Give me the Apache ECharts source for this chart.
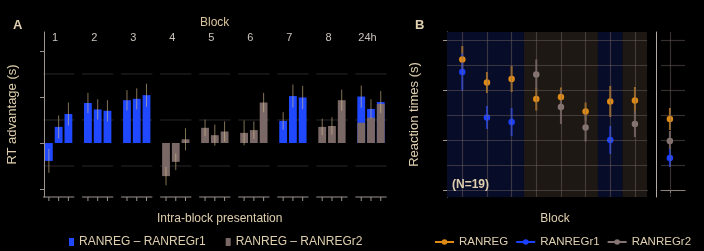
<!DOCTYPE html>
<html>
<head>
<meta charset="utf-8">
<script src="https://cdn.jsdelivr.net/npm/echarts@6/dist/echarts.min.js"></script>
<style>
  html, body { margin: 0; background: #000; }
  #chart { width: 704px; height: 251px; }
</style>
</head>
<body>
<div id="chart"></div>
<script>
// ---------------- data ----------------
const blocks = ['1', '2', '3', '4', '5', '6', '7', '8', '24h'];

// panel A : RT advantage, 3 intra-block presentations per block (null = no bar)
const advR1 = [-0.39, 0.35, 0.63,  0.87, 0.73, 0.70,  0.93, 0.96, 1.04,  null, null, null,
               null, null, null,  null, null, null,  0.48, 1.02, 0.99,  null, null, null,  1.01, 0.74, 0.89];
const errR1 = [0.26, 0.25, 0.25,  0.22, 0.22, 0.23,  0.22, 0.23, 0.25,  null, null, null,
               null, null, null,  null, null, null,  0.19, 0.25, 0.25,  null, null, null,  0.24, 0.21, 0.24];
const advR2 = [null, null, null,  null, null, null,  null, null, null,  -0.72, -0.41, 0.08,
               0.33, 0.17, 0.25,  0.22, 0.28, 0.88,  null, null, null,  0.35, 0.37, 0.93,  0.44, 0.55, 0.85];
const errR2 = [null, null, null,  null, null, null,  null, null, null,  0.20, 0.18, 0.24,
               0.18, 0.23, 0.22,  0.27, 0.19, 0.21,  null, null, null,  0.18, 0.19, 0.23,  null, null, null];

// panel B : reaction times per block (blocks 1..8), then 24h
const rtRan    = [2.61, 2.15, 2.22, 1.82, 1.86, 1.57, 1.77, 1.79];
const rtRanErr = [0.27, 0.21, 0.26, 0.23, 0.19, 0.18, 0.31, 0.27];
const rtR1     = [2.36, 1.45, 1.36, null, null, null, 1.00, null];
const rtR1Err  = [0.37, 0.23, 0.28, null, null, null, 0.28, null];
const rtR2     = [null, null, null, 2.31, 1.66, 1.25, null, 1.32];
const rtR2Err  = [null, null, null, 0.30, 0.34, 0.28, null, 0.26];
// 24h: RANREG, RANREGr1, RANREGr2
const rt24     = [1.42, 0.64, 0.98];
const rt24Err  = [0.22, 0.18, 0.20];

// ---------------- helpers ----------------
const nameA1 = 'RANREG – RANREGr1';
const nameA2 = 'RANREG – RANREGr2';
const txt = '#dfcfae';
const axisCol = '#9c938d';

const slotCats = [];
const topLabels = [];
blocks.forEach((b, k) => {
  for (let j = 0; j < 4; j++) {
    slotCats.push(b + '_' + j);
    topLabels.push(j === 1 ? b : '');
  }
});
function toSlots(arr) {
  const out = [];
  blocks.forEach((b, k) => {
    for (let j = 0; j < 3; j++) out.push(arr[k * 3 + j]);
    out.push(null);
  });
  return out;
}
function errData(vals, errs) {
  const v = toSlots(vals), e = toSlots(errs), out = [];
  v.forEach((val, i) => { if (val != null && e[i] != null) out.push([i, val, e[i]]); });
  return out;
}
function errDataB(vals, errs) {
  const out = [];
  vals.forEach((val, i) => { if (val != null) out.push([i + 1, val, errs[i]]); });
  return out;
}
function errRenderer(color, width) {
  return function (params, api) {
    const x = api.value(0), v = api.value(1), e = api.value(2);
    const p1 = api.coord([x, v + e]), p2 = api.coord([x, v - e]);
    return { type: 'line', shape: { x1: p1[0], y1: p1[1], x2: p2[0], y2: p2[1] },
             style: { stroke: color, lineWidth: width } };
  };
}

const yMinA = -1.174, yMaxA = 2.413;
// per-block panel frame: light grid segments + bottom axis segment with 3 ticks
function renderFrame(params, api) {
  const mid = api.value(0);
  const slot = api.size([1, 0])[0];
  const cx = api.coord([mid, 0])[0];
  const x0 = cx - 1.6 * slot, x1 = cx + 1.6 * slot;
  const children = [];
  [-0.5, 0.5, 1.5].forEach(g => {
    const y = api.coord([mid, g])[1];
    children.push({ type: 'line', shape: { x1: x0, y1: y, x2: x1, y2: y },
                    style: { stroke: '#2b2727', lineWidth: 1 } });
  });
  const yb = api.coord([mid, yMinA])[1];
  children.push({ type: 'line', shape: { x1: x0, y1: yb, x2: x1, y2: yb },
                  style: { stroke: axisCol, lineWidth: 1 } });
  for (let d = -1; d <= 1; d++) {
    const tx = api.coord([mid + d, 0])[0];
    children.push({ type: 'line', shape: { x1: tx, y1: yb, x2: tx, y2: yb + 4 },
                    style: { stroke: axisCol, lineWidth: 1 } });
  }
  return { type: 'group', children: children };
}

const gridB = [];
for (let v = 0; v <= 3; v += 0.5) gridB.push({ yAxis: v });
const vertB = rtRan.map((v, i) => ({ xAxis: i + 1 }));

const chart = echarts.init(document.getElementById('chart'), null, { renderer: 'canvas' });

const option = {
  backgroundColor: '#000',
  animation: false,
  textStyle: { fontFamily: 'Liberation Sans, Arial, sans-serif' },
  title: [
    { text: 'A', left: 8, top: 14, textStyle: { color: txt, fontSize: 13, fontWeight: 'bold' } },
    { text: 'B', left: 410, top: 14, textStyle: { color: txt, fontSize: 13, fontWeight: 'bold' } },
    { text: 'Block', left: 195, top: 12, textStyle: { color: '#d9c49c', fontSize: 12, fontWeight: 'normal' } }
  ],
  graphic: [
    { type: 'text', left: 452, top: 179, z: 100,
      style: { text: '(N=19)', fill: txt, font: 'bold 12px Liberation Sans, Arial, sans-serif' } }
  ],
  legend: [
    { data: [nameA1, nameA2], left: 69, top: 236, padding: 0, icon: 'rect', itemWidth: 5, itemHeight: 8,
      itemGap: 20, textStyle: { color: txt, fontSize: 12 } },
    { data: ['RANREG', 'RANREGr1', 'RANREGr2'], left: 434, top: 236, padding: 0, width: 270,
      itemWidth: 19, itemHeight: 7, itemGap: 7,
      textStyle: { color: txt, fontSize: 11.5 }, lineStyle: { opacity: 1, width: 2 } }
  ],
  grid: [
    { left: 44, top: 32, width: 351.4, height: 165 },
    { left: 447, top: 32, width: 200, height: 165 },
    { left: 661, top: 32, width: 24, height: 165 }
  ],
  xAxis: [
    { type: 'category', gridIndex: 0, data: slotCats, boundaryGap: true,
      axisLine: { show: false }, axisTick: { show: false }, axisLabel: { show: false },
      name: 'Intra-block presentation', nameLocation: 'middle', nameGap: 16,
      nameTextStyle: { color: txt, fontSize: 12 } },
    { type: 'category', gridIndex: 0, position: 'top', data: topLabels, boundaryGap: true,
      axisLine: { show: false }, axisTick: { show: false },
      axisLabel: { interval: 0, margin: -11, color: '#cbc3bb', fontSize: 11, padding: [0, 7, 0, 0] } },
    { type: 'value', gridIndex: 1, min: 0.38, max: 8.49,
      axisLine: { lineStyle: { color: axisCol } },
      axisTick: { customValues: [1, 2, 3, 4, 5, 6, 7, 8], length: 3, lineStyle: { color: axisCol } },
      axisLabel: { show: false }, splitLine: { show: false },
      name: 'Block', nameLocation: 'middle', nameGap: 16,
      nameTextStyle: { color: txt, fontSize: 12, padding: [0, 0, 0, 16] } },
    { type: 'value', gridIndex: 2, min: 0.5, max: 1.85,
      axisLine: { lineStyle: { color: axisCol } },
      axisTick: { customValues: [1], length: 3, lineStyle: { color: axisCol } },
      axisLabel: { show: false }, splitLine: { show: false } }
  ],
  yAxis: [
    { type: 'value', gridIndex: 0, min: yMinA, max: yMaxA,
      axisLine: { show: true, lineStyle: { color: axisCol } },
      axisTick: { show: true, customValues: [-1, 0, 1, 2], length: 4, lineStyle: { color: axisCol } },
      axisLabel: { show: false }, splitLine: { show: false },
      name: 'RT advantage (s)', nameLocation: 'middle', nameGap: 25,
      nameTextStyle: { color: txt, fontSize: 13 } },
    { type: 'value', gridIndex: 1, min: -0.14, max: 3.16,
      axisLine: { show: true, lineStyle: { color: axisCol } },
      axisTick: { show: true, customValues: [0, 1, 2, 3], length: 4, lineStyle: { color: axisCol } },
      axisLabel: { show: false }, splitLine: { show: false },
      name: 'Reaction times (s)', nameLocation: 'middle', nameGap: 26,
      nameTextStyle: { color: txt, fontSize: 13 } },
    { type: 'value', gridIndex: 2, min: -0.14, max: 3.16, offset: 5,
      axisLine: { show: true, lineStyle: { color: '#b3aaa2' } },
      axisTick: { show: false }, axisLabel: { show: false }, splitLine: { show: false } }
  ],
  series: [
    // ---- panel A ----
    { type: 'custom', xAxisIndex: 0, yAxisIndex: 0, silent: true, z: 0, clip: false,
      data: blocks.map((b, k) => [k * 4 + 1, 0]), encode: { x: 0, y: 1 }, renderItem: renderFrame },
    { name: nameA1, type: 'bar', xAxisIndex: 0, yAxisIndex: 0, barWidth: '80%', barGap: '-100%',
      itemStyle: { color: '#1f48ff' }, data: toSlots(advR1), z: 2 },
    { name: nameA2, type: 'bar', xAxisIndex: 0, yAxisIndex: 0, barWidth: '80%', barGap: '-100%',
      itemStyle: { color: '#7a6866' }, data: toSlots(advR2), z: 2 },
    { type: 'custom', xAxisIndex: 0, yAxisIndex: 0, silent: true, z: 3,
      data: errData(advR1, errR1), encode: { x: 0, y: 1 },
      renderItem: errRenderer('rgba(214,190,140,0.6)', 1) },
    { type: 'custom', xAxisIndex: 0, yAxisIndex: 0, silent: true, z: 3,
      data: errData(advR2, errR2), encode: { x: 0, y: 1 },
      renderItem: errRenderer('rgba(214,190,140,0.6)', 1) },

    // ---- panel B backgrounds and grid ----
    { type: 'line', xAxisIndex: 2, yAxisIndex: 1, data: [], silent: true, z: 1,
      markArea: { silent: true, data: [
        [{ xAxis: 0.38, itemStyle: { color: '#070c28' } }, { xAxis: 3.5 }],
        [{ xAxis: 3.5, itemStyle: { color: '#1d1814' } }, { xAxis: 6.5 }],
        [{ xAxis: 6.5, itemStyle: { color: '#070c28' } }, { xAxis: 7.5 }],
        [{ xAxis: 7.5, itemStyle: { color: '#1d1814' } }, { xAxis: 8.49 }]
      ] },
      markLine: { silent: true, symbol: 'none', label: { show: false },
        lineStyle: { color: 'rgba(120,104,100,0.45)', width: 1.2, type: 'solid' },
        data: gridB.concat(vertB) } },
    { type: 'line', xAxisIndex: 3, yAxisIndex: 2, data: [], silent: true, z: 1,
      markLine: { silent: true, symbol: 'none', label: { show: false },
        lineStyle: { color: 'rgba(120,104,100,0.45)', width: 1.2, type: 'solid' },
        data: gridB.concat([{ xAxis: 1 }]) } },

    // ---- panel B error bars ----
    { type: 'custom', xAxisIndex: 2, yAxisIndex: 1, silent: true, z: 3,
      data: errDataB(rtRan, rtRanErr), encode: { x: 0, y: 1 }, renderItem: errRenderer('#a06a20', 2) },
    { type: 'custom', xAxisIndex: 2, yAxisIndex: 1, silent: true, z: 3,
      data: errDataB(rtR1, rtR1Err), encode: { x: 0, y: 1 }, renderItem: errRenderer('#1a36d0', 2) },
    { type: 'custom', xAxisIndex: 2, yAxisIndex: 1, silent: true, z: 3,
      data: errDataB(rtR2, rtR2Err), encode: { x: 0, y: 1 }, renderItem: errRenderer('#6c5e5c', 2) },
    { type: 'custom', xAxisIndex: 3, yAxisIndex: 2, silent: true, z: 3,
      data: [[1, rt24[2], rt24Err[2]]], encode: { x: 0, y: 1 }, renderItem: errRenderer('#6c5e5c', 2) },
    { type: 'custom', xAxisIndex: 3, yAxisIndex: 2, silent: true, z: 3,
      data: [[1, rt24[0], rt24Err[0]]], encode: { x: 0, y: 1 }, renderItem: errRenderer('#a06a20', 2) },
    { type: 'custom', xAxisIndex: 3, yAxisIndex: 2, silent: true, z: 3,
      data: [[1, rt24[1], rt24Err[1]]], encode: { x: 0, y: 1 }, renderItem: errRenderer('#1a36d0', 2) },

    // ---- panel B points ----
    { name: 'RANREG', type: 'line', xAxisIndex: 2, yAxisIndex: 1, z: 4,
      symbol: 'circle', symbolSize: 6.5, lineStyle: { opacity: 0, width: 2 },
      itemStyle: { color: '#df8a14' }, data: rtRan.map((v, i) => [i + 1, v]) },
    { name: 'RANREGr1', type: 'line', xAxisIndex: 2, yAxisIndex: 1, z: 4,
      symbol: 'circle', symbolSize: 6.5, lineStyle: { opacity: 0, width: 2 },
      itemStyle: { color: '#1b40ff' }, data: rtR1.map((v, i) => [i + 1, v]) },
    { name: 'RANREGr2', type: 'line', xAxisIndex: 2, yAxisIndex: 1, z: 4,
      symbol: 'circle', symbolSize: 6.5, lineStyle: { opacity: 0, width: 2 },
      itemStyle: { color: '#857471' }, data: rtR2.map((v, i) => [i + 1, v]) },
    { name: 'RANREG', type: 'line', xAxisIndex: 3, yAxisIndex: 2, z: 4,
      symbol: 'circle', symbolSize: 6.5, lineStyle: { opacity: 0 },
      itemStyle: { color: '#df8a14' }, data: [[1, rt24[0]]] },
    { name: 'RANREGr1', type: 'line', xAxisIndex: 3, yAxisIndex: 2, z: 4,
      symbol: 'circle', symbolSize: 6.5, lineStyle: { opacity: 0 },
      itemStyle: { color: '#1b40ff' }, data: [[1, rt24[1]]] },
    { name: 'RANREGr2', type: 'line', xAxisIndex: 3, yAxisIndex: 2, z: 4,
      symbol: 'circle', symbolSize: 6.5, lineStyle: { opacity: 0 },
      itemStyle: { color: '#857471' }, data: [[1, rt24[2]]] }
  ]
};

chart.setOption(option);
</script>
</body>
</html>
